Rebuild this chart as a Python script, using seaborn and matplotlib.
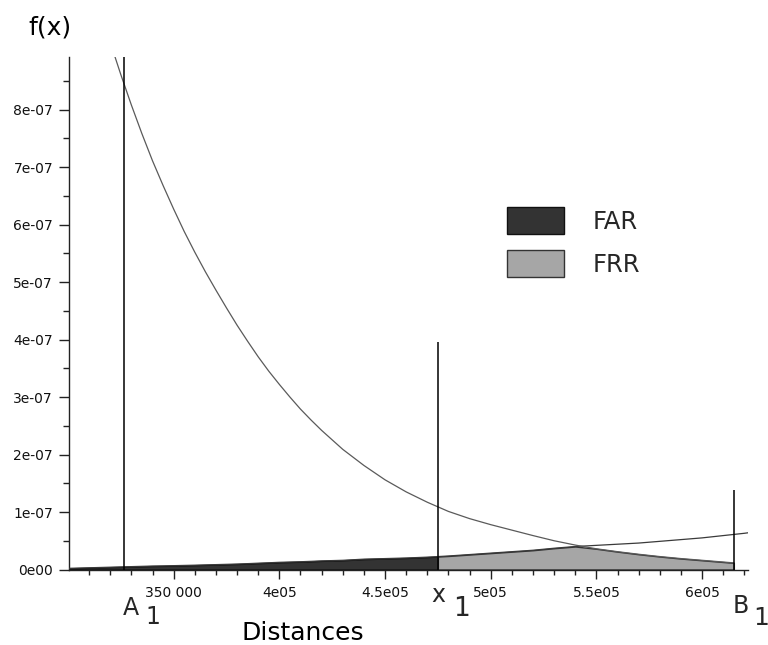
import numpy as np
import pandas as pd
import matplotlib
matplotlib.use("Agg")
import matplotlib.pyplot as plt
import seaborn as sns
from matplotlib.ticker import FixedLocator, FixedFormatter, MultipleLocator

# Distance grid shared by both density curves (finer where the falling curve is steep)
distances = [300000, 310000, 320000, 325000, 330000, 335000, 340000, 345000,
             350000, 355000, 360000, 365000, 370000, 375000, 380000, 385000,
             390000, 395000, 400000, 405000, 410000, 415000, 420000, 430000,
             440000, 450000, 460000, 470000, 475000, 480000, 490000, 500000,
             510000, 520000, 530000, 540000, 550000, 560000, 570000, 580000,
             590000, 600000, 610000, 615000, 620000, 622000]

# Impostor distance density (rising), in units of 1e-07
impostor_density = [0.02, 0.03, 0.04, 0.045, 0.05, 0.055, 0.06, 0.063,
                    0.067, 0.071, 0.075, 0.08, 0.085, 0.09, 0.095, 0.102,
                    0.11, 0.117, 0.125, 0.13, 0.135, 0.142, 0.15, 0.16,
                    0.18, 0.19, 0.20, 0.215, 0.225, 0.235, 0.26, 0.285,
                    0.31, 0.335, 0.37, 0.40, 0.42, 0.44, 0.46, 0.49,
                    0.52, 0.55, 0.59, 0.61, 0.63, 0.64]

# Genuine distance density (falling), in units of 1e-07
genuine_density = [np.nan, np.nan, 9.17, 8.61, 8.08, 7.58, 7.11, 6.68,
                   6.27, 5.88, 5.52, 5.18, 4.86, 4.55, 4.25, 3.97,
                   3.70, 3.45, 3.22, 3.00, 2.79, 2.60, 2.42, 2.09,
                   1.81, 1.56, 1.35, 1.17, 1.09, 1.01, 0.885, 0.78,
                   0.685, 0.59, 0.50, 0.425, 0.36, 0.31, 0.265, 0.225,
                   0.19, 0.16, 0.13, 0.115, np.nan, np.nan]

# Marked distances: lower bound A1, threshold x1, upper bound B1
marker_x = [326500, 475000, 615000]
marker_top = [8.92, 3.95, 1.39]          # line heights, units of 1e-07
marker_letters = ["A", "x", "B"]
marker_index = ["1", "1", "1"]

x_ticks = [350000, 400000, 450000, 500000, 550000, 600000]
x_tick_labels = ["350 000", "4e05", "4.5e05", "5e05", "5.5e05", "6e05"]
y_ticks = [0, 1, 2, 3, 4, 5, 6, 7, 8]
y_tick_labels = ["0e00", "1e-07", "2e-07", "3e-07", "4e-07",
                 "5e-07", "6e-07", "7e-07", "8e-07"]

SCALE = 1e-7
x = np.array(distances, dtype=float)
imp = np.array(impostor_density) * SCALE
gen = np.array(genuine_density) * SCALE

sns.set_style("ticks")
plt.rcParams["font.family"] = ["DejaVu Sans"]

fig = plt.figure(figsize=(7.68, 6.45), dpi=100)
ax = fig.add_axes([69 / 768, 1 - 569.5 / 645, (748 - 69) / 768, (569.5 - 56.7) / 645])

# Shaded error areas
far_mask = x <= marker_x[1]
ax.fill_between(x[far_mask], 0, imp[far_mask], color="#333333", lw=0,
                label="FAR", zorder=1)
frr_mask = (x >= marker_x[1]) & (x <= marker_x[2])
ax.fill_between(x[frr_mask], 0, np.fmin(imp[frr_mask], gen[frr_mask]),
                color="#a6a6a6", lw=0, label="FRR", zorder=1)

# Density curves
df = pd.DataFrame({
    "Distances": np.concatenate([x, x]),
    "f(x)": np.concatenate([imp, gen]),
    "curve": ["impostor"] * len(x) + ["genuine"] * len(x),
}).dropna()
sns.lineplot(data=df, x="Distances", y="f(x)", hue="curve",
             palette={"impostor": "#3a3a3a", "genuine": "#5a5a5a"},
             estimator=None, sort=False, legend=False, lw=0.9, ax=ax, zorder=3)

# Marker lines
ax.vlines(marker_x, 0, np.array(marker_top) * SCALE, color="black",
          lw=1.1, zorder=4)

ax.set_xlim(300500, 621700)
ax.set_ylim(0, 8.92e-7)

ax.xaxis.set_major_locator(FixedLocator(x_ticks))
ax.xaxis.set_major_formatter(FixedFormatter(x_tick_labels))
ax.xaxis.set_minor_locator(MultipleLocator(10000))
ax.yaxis.set_major_locator(FixedLocator([v * SCALE for v in y_ticks]))
ax.yaxis.set_major_formatter(FixedFormatter(y_tick_labels))
ax.yaxis.set_minor_locator(MultipleLocator(0.5 * SCALE))

ax.tick_params(axis="x", which="major", length=6.5, width=1.0, pad=5.5,
               labelsize=10, color="#222222", labelcolor="#111111")
ax.tick_params(axis="x", which="minor", length=3.8, width=1.0, color="#222222")
ax.tick_params(axis="y", which="major", length=7.2, width=1.0, pad=4.3,
               labelsize=10, color="#222222", labelcolor="#111111")
ax.tick_params(axis="y", which="minor", length=4.3, width=1.0, color="#222222")

for side in ("top", "right"):
    ax.spines[side].set_visible(False)
for side in ("left", "bottom"):
    ax.spines[side].set_linewidth(1.0)
    ax.spines[side].set_color("#222222")

ax.set_xlabel("Distances", fontsize=18, color="black")
ax.xaxis.set_label_coords((303 - 69) / 679, -(640 - 569.5) / 512.8)
ax.xaxis.label.set_va("baseline")
ax.xaxis.label.set_ha("center")

ax.set_ylabel("f(x)", fontsize=18, rotation=0, color="black")
ax.yaxis.set_label_coords((49.5 - 69) / 679, (569.5 - 34.3) / 512.8)
ax.yaxis.label.set_va("baseline")
ax.yaxis.label.set_ha("center")

# Letters under the marker lines, with their index set lower right
letter_offsets = [(7, -45.5), (0.7, -32.2), (7, -43.2)]
index_offsets = [(28.7, -54.5), (24, -46.2), (27.3, -55.5)]
index_sizes = [17, 19, 18]
xa = ax.get_xaxis_transform()
for xm, letter, idx, lo, io, isz in zip(marker_x, marker_letters, marker_index,
                                        letter_offsets, index_offsets, index_sizes):
    ax.annotate(letter, xy=(xm, 0), xycoords=xa, xytext=lo,
                textcoords="offset pixels", ha="center", va="baseline",
                fontsize=17, annotation_clip=False)
    ax.annotate(idx, xy=(xm, 0), xycoords=xa, xytext=io,
                textcoords="offset pixels", ha="center", va="baseline",
                fontsize=isz, annotation_clip=False)

handles, labels = ax.get_legend_handles_labels()
for h, ec in zip(handles, ["#111111", "#333333"]):
    h.set_edgecolor(ec)
    h.set_linewidth(1.0)
leg = fig.legend(handles, labels, loc="upper left",
                 bbox_to_anchor=(506.7 / 768, 1 - 206.7 / 645),
                 frameon=False, fontsize=17.5, handlelength=2.35,
                 handleheight=1.36, handletextpad=1.19, labelspacing=0.64,
                 borderpad=0, borderaxespad=0)

fig.savefig("out.png", dpi=100)
